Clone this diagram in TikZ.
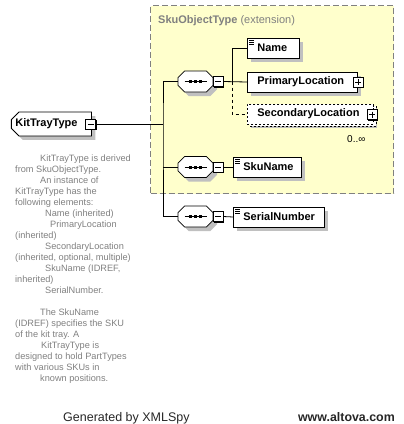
\documentclass[tikz,border=0pt]{standalone}
\usepackage{fontspec}
\setmainfont{Liberation Sans}
\usetikzlibrary{shapes.misc,shadows}

\definecolor{extfill}{RGB}{255,255,204}
\definecolor{extline}{RGB}{128,128,128}
\definecolor{shade}{RGB}{192,192,192}
\definecolor{doctext}{RGB}{128,128,128}

\newcommand\elfont{\fontsize{11}{13}\selectfont\bfseries}
\newcommand\docfont{\fontsize{9.2}{11}\selectfont}

\tikzset{
	elshadow/.style={drop shadow={shadow xshift=4pt,shadow yshift=-4pt,fill=shade,opacity=1}},
	elbox/.style={draw,fill=white,line width=0.8pt,minimum height=20pt,inner xsep=0pt,text width=#1,align=left,font=\elfont,execute at begin node=\hspace*{10pt},elshadow},
	simple/.style={path picture={
		\foreach \k in {0,1,2}
			\draw[black,line width=0.6pt] ([xshift=2pt,yshift={-2.5pt-2*\k pt}]path picture bounding box.north west) -- ++(5pt,0pt);
	}},
	optbox/.style={dash pattern=on 2pt off 2pt,copy shadow={shadow xshift=3pt,shadow yshift=-2pt,draw=black,fill=white,dash pattern=on 2pt off 2pt}},
	typebox/.style={chamfered rectangle,chamfered rectangle corners={north west,south west},chamfered rectangle xsep=4pt,draw,fill=white,line width=0.8pt,minimum height=20pt,minimum width=80pt,font=\elfont,elshadow},
	seqbox/.style={chamfered rectangle,chamfered rectangle xsep=4pt,draw,fill=white,line width=0.8pt,minimum width=35pt,minimum height=21pt,elshadow,path picture={
		\draw[black,line width=1pt] ([xshift=-11pt]path picture bounding box.center) -- ([xshift=11pt]path picture bounding box.center);
		\foreach \d in {-5,0,5}
			\fill[black] ([xshift={\d pt-1.5pt},yshift=-1.5pt]path picture bounding box.center) rectangle ++(3pt,3pt);
	}},
	btn/.style={draw,fill=white,line width=0.8pt,minimum size=10pt,inner sep=0pt,drop shadow={shadow xshift=1pt,shadow yshift=-1pt,fill=black,opacity=1}},
	minus/.style={btn,path picture={
		\draw[black,line width=0.8pt] ([xshift=2pt]path picture bounding box.west) -- ([xshift=-2pt]path picture bounding box.east);
	}},
	plus/.style={btn,path picture={
		\draw[black,line width=0.8pt] ([xshift=2pt]path picture bounding box.west) -- ([xshift=-2pt]path picture bounding box.east);
		\draw[black,line width=0.8pt] ([yshift=-2pt]path picture bounding box.north) -- ([yshift=2pt]path picture bounding box.south);
	}},
	link/.style={line width=0.8pt},
	extbox/.style={draw=extline,fill=extfill,line width=1.2pt,dash pattern=on 6pt off 3pt},
	doc/.style={text=doctext,font=\docfont,align=left,inner sep=0pt}
}

\begin{document}
\begin{tikzpicture}[x=1pt,y=-1pt]
	\useasboundingbox (0,0) rectangle (404,424);
	\node[extbox,minimum width=243pt,minimum height=188pt,anchor=north west] (ext) at (150,5) {};
	\node[text=extline,font=\fontsize{11}{13}\selectfont,anchor=base west,inner sep=0pt] (exttitle) at (158,23) {\textbf{SkuObjectType} (extension)};

	\node[typebox,text width=72pt,align=left,inner xsep=0pt,anchor=west] (kit) at (11,124) {KitTrayType};
	\node[minus] (kitbtn) at (90.5,124) {};

	\node[seqbox] (seqA) at (195.5,81.5) {};
	\node[minus] (seqAbtn) at (218,81.5) {};
	\node[seqbox] (seqB) at (195.5,167) {};
	\node[minus] (seqBbtn) at (218,167) {};
	\node[seqbox] (seqC) at (195.5,216.5) {};
	\node[minus] (seqCbtn) at (218,216.5) {};

	\coordinate (bus) at (163,124);
	\coordinate (forkA) at (232,81.5);

	\node[elbox=52pt,simple,anchor=west] (name) at (247,48) {Name};
	\node[elbox=110pt,anchor=west] (primloc) at (247,82) {PrimaryLocation};
	\node[plus] (primbtn) at (358,82) {};
	\node[elbox=126pt,optbox,anchor=west] (secloc) at (247,114) {SecondaryLocation};
	\node[plus] (secbtn) at (372,114.5) {};
	\node[font=\fontsize{10}{12}\selectfont,anchor=base west,inner sep=0pt] (seccard) at (347,142) {0..∞};
	\node[elbox=68pt,simple,anchor=west] (skuname) at (233,167) {SkuName};
	\node[elbox=91pt,simple,anchor=west] (serial) at (233,217) {SerialNumber};

	\draw[link] (kitbtn.east) -- (bus);
	\draw[link] (seqA.west) -| (bus) |- (seqC.west);
	\draw[link] (bus |- seqB.west) -- (seqB.west);
	\draw[link] (seqAbtn.east) -- (primloc.west);
	\draw[link] (name.west) -| (forkA);
	\draw[link,dashed] (forkA) |- (secloc.west);
	\draw[link] (seqBbtn.east) -- (skuname.west);
	\draw[link] (seqCbtn.east) -- (serial.west);

	\node[doc,anchor=base west] (kitdoc) at (15,381) {%
		\hspace*{25pt}KitTrayType is derived\\
		from SkuObjectType.\\
		\hspace*{25pt}An instance of\\
		KitTrayType has the\\
		following elements:\\
		\hspace*{30pt}Name (inherited)\\
		\hspace*{35pt}PrimaryLocation\\
		(inherited)\\
		\hspace*{30pt}SecondaryLocation\\
		(inherited, optional, multiple)\\
		\hspace*{30pt}SkuName (IDREF,\\
		inherited)\\
		\hspace*{30pt}SerialNumber.\\
		\mbox{}\\
		\hspace*{25pt}The SkuName\\
		(IDREF) specifies the SKU\\
		of the kit tray. A\\
		\hspace*{26pt}KitTrayType is\\
		designed to hold PartTypes\\
		with various SKUs in\\
		\hspace*{25pt}known positions.};

	\node[font=\fontsize{12.5}{14}\selectfont,text=black!85,anchor=base west,inner sep=0pt] (gen) at (63,421) {Generated by XMLSpy};
	\node[font=\fontsize{12.4}{14}\selectfont\bfseries,text=black!85,anchor=base east,inner sep=0pt] (site) at (395,421) {www.altova.com};
\end{tikzpicture}
\end{document}
